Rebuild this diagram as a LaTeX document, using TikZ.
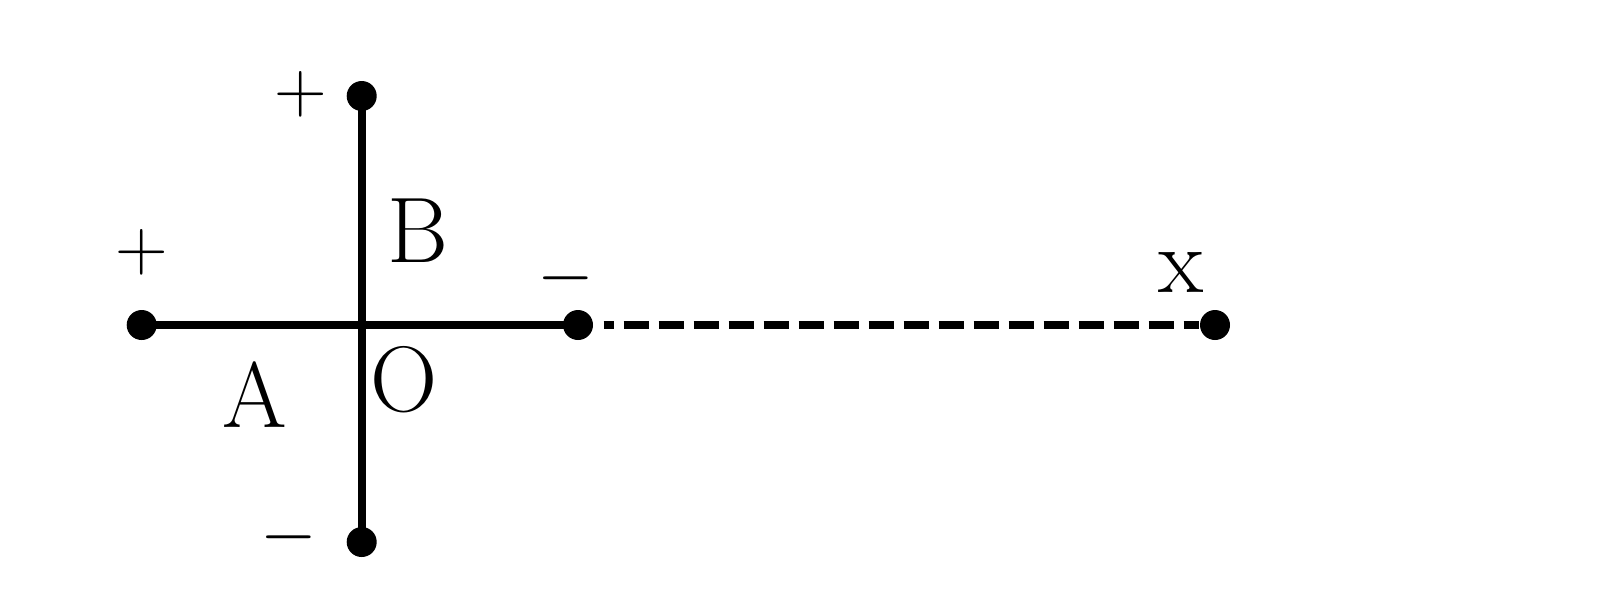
\documentclass[tikz,border=0pt]{standalone}
\begin{document}
\begin{tikzpicture}[x=1cm,y=1cm,
  dotnode/.style={circle,fill=black,inner sep=0pt,minimum size=0.30cm},
  rod/.style={line width=2.2pt},
  lbl/.style={inner sep=0pt,anchor=center,font=\fontsize{26.5}{30}\selectfont},
  sgn/.style={inner sep=0pt,anchor=center,font=\fontsize{21.7}{24}\selectfont},
  dashline/.style={line width=2.2pt,dash pattern=on 0.25cm off 0.10cm,dash phase=0.15cm,shorten <=0.1cm}]
\useasboundingbox (0,0) rectangle (16,6.02);
% dots
\node[dotnode] (L) at (1.417,2.77) {};
\node[dotnode] (R) at (5.78,2.77) {};
\node[dotnode] (T) at (3.617,5.06) {};
\node[dotnode] (Bt) at (3.617,0.60) {};
\node[dotnode] (X) at (12.15,2.77) {};
% rods
\draw[rod] (L.center) -- (R.center);
\draw[rod] (T.center) -- (Bt.center);
\draw[dashline] (R) -- (X);
% labels
\node[sgn] (pT) at (3.01,5.08) {$+$};
\node[sgn] (pL) at (1.42,3.50) {$+$};
\node[sgn] (mR) at (5.66,3.24) {$-$};
\node[sgn] (mB) at (2.89,0.65) {$-$};
\node[lbl] (lB) at (4.18,3.71) {B};
\node[lbl] (lA) at (2.545,2.07) {A};
\node[lbl] (lO) at (4.04,2.22) {O};
\node[lbl] (lx) at (11.81,3.30) {x};
\end{tikzpicture}
\end{document}
